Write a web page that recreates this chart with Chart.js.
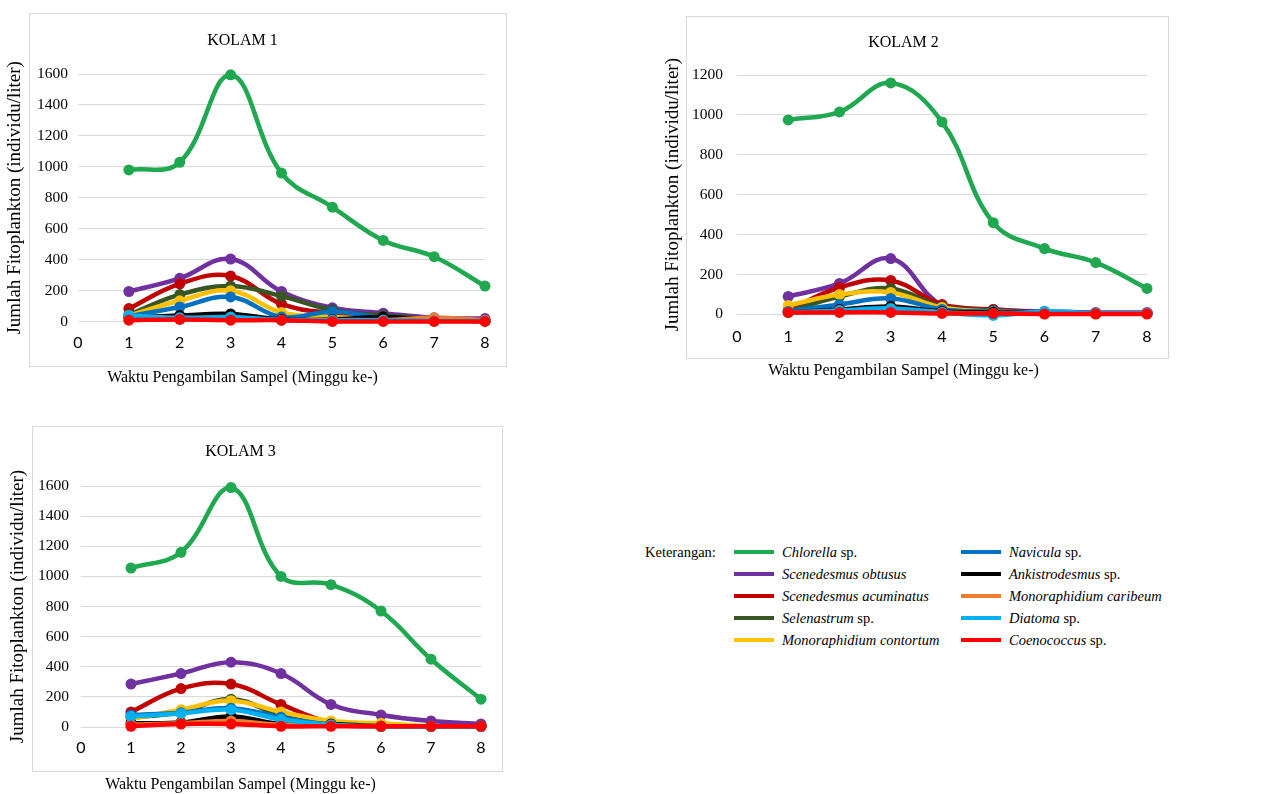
<!DOCTYPE html>
<html>
<head>
<meta charset="utf-8">
<script src="https://cdn.jsdelivr.net/npm/chart.js@4.4.0/dist/chart.umd.min.js"></script>
<style>
html,body{margin:0;padding:0;background:#fff;width:1276px;height:794px;overflow:hidden;position:relative;font-family:"Liberation Serif","Times New Roman",serif;color:#000;}
.box{position:absolute;border:1px solid #d9d9d9;box-sizing:border-box;}
canvas{position:absolute;}
.lg{position:absolute;font-size:14.5px;line-height:18px;white-space:nowrap;}
.sw{position:absolute;height:4px;width:40px;}
</style>
</head>
<body>
<div class="box" style="left:29px;top:13px;width:478px;height:354px;"></div>
<div class="box" style="left:686px;top:16px;width:483px;height:343px;"></div>
<div class="box" style="left:32px;top:426px;width:471px;height:346px;"></div>
<canvas id="c1" width="535" height="395" style="left:0px;top:0px;"></canvas>
<canvas id="c2" width="534" height="385" style="left:660px;top:0px;"></canvas>
<canvas id="c3" width="534" height="394" style="left:0px;top:400px;"></canvas>
<div id="legend"></div>
<script>
// ---- data ----
const weeks = [1, 2, 3, 4, 5, 6, 7, 8];
const xTickVals = [0, 1, 2, 3, 4, 5, 6, 7, 8];
const yTicks1600 = [0, 200, 400, 600, 800, 1000, 1200, 1400, 1600];
const yTicks1200 = [0, 200, 400, 600, 800, 1000, 1200];
const titles = ['KOLAM 1', 'KOLAM 2', 'KOLAM 3'];
const xTitle = 'Waktu Pengambilan Sampel (Minggu ke-)';
const yTitle = 'Jumlah Fitoplankton (individu/liter)';
const legendTitle = 'Keterangan:';
const genusNames = ['Chlorella', 'Scenedesmus obtusus', 'Scenedesmus acuminatus', 'Selenastrum', 'Monoraphidium contortum',
                    'Navicula', 'Ankistrodesmus', 'Monoraphidium caribeum', 'Diatoma', 'Coenococcus'];
const nameSuffix = [' sp.', '', '', ' sp.', '', ' sp.', ' sp.', '', ' sp.', ' sp.'];
const seriesColors = ['#1FA84F', '#7030A0', '#C00000', '#375623', '#FFC000',
                      '#0070C0', '#000000', '#ED7D31', '#00B0F0', '#FF0000'];

// Kolam 1
const k1Chlorella   = [980, 1030, 1595, 960, 740, 525, 420, 230];
const k1Obtusus     = [195, 280, 405, 195, 90, 55, 25, 20];
const k1Acuminatus  = [85, 245, 295, 115, 55, 35, 15, 10];
const k1Selenastrum = [45, 175, 230, 165, 75, 40, 20, 10];
const k1Contortum   = [40, 135, 200, 60, 30, 20, 10, 5];
const k1Navicula    = [35, 95, 160, 30, 65, 25, 10, 5];
const k1Ankistro    = [25, 40, 50, 15, 15, 30, 10, 5];
const k1Caribeum    = [15, 20, 25, 10, 10, 10, 25, 10];
const k1Diatoma     = [40, 25, 30, 10, 10, 10, 5, 5];
const k1Coenococcus = [10, 15, 10, 10, 2, 2, 2, 2];

// Kolam 2
const k2Chlorella   = [975, 1015, 1160, 965, 460, 330, 260, 130];
const k2Obtusus     = [90, 155, 280, 45, 25, 15, 10, 10];
const k2Acuminatus  = [20, 135, 170, 50, 25, 10, 5, 5];
const k2Selenastrum = [15, 90, 130, 40, 20, 10, 5, 5];
const k2Contortum   = [45, 100, 110, 35, 15, 10, 5, 5];
const k2Navicula    = [15, 50, 80, 25, 15, 10, 5, 5];
const k2Ankistro    = [10, 25, 40, 15, 10, 5, 5, 5];
const k2Caribeum    = [10, 15, 20, 10, 5, 5, 5, 5];
const k2Diatoma     = [10, 20, 30, 10, -5, 15, 5, 5];
const k2Coenococcus = [10, 10, 10, 5, 5, 2, 2, 2];

// Kolam 3
const k3Chlorella   = [1055, 1160, 1590, 1000, 945, 770, 450, 185];
const k3Obtusus     = [285, 355, 430, 355, 150, 80, 40, 20];
const k3Acuminatus  = [100, 255, 285, 150, 30, 10, 5, 5];
const k3Selenastrum = [60, 100, 185, 80, 30, 10, 5, 5];
const k3Contortum   = [55, 115, 175, 100, 40, 25, 5, 5];
const k3Navicula    = [80, 95, 125, 65, 15, 5, 5, 5];
const k3Ankistro    = [25, 30, 70, 20, 20, 5, 5, 5];
const k3Caribeum    = [15, 25, 40, 15, 10, 5, 5, 5];
const k3Diatoma     = [70, 90, 115, 50, 15, 5, 5, 5];
const k3Coenococcus = [5, 20, 20, 5, 5, 5, 5, 5];

const pond1 = [k1Chlorella, k1Obtusus, k1Acuminatus, k1Selenastrum, k1Contortum, k1Navicula, k1Ankistro, k1Caribeum, k1Diatoma, k1Coenococcus];
const pond2 = [k2Chlorella, k2Obtusus, k2Acuminatus, k2Selenastrum, k2Contortum, k2Navicula, k2Ankistro, k2Caribeum, k2Diatoma, k2Coenococcus];
const pond3 = [k3Chlorella, k3Obtusus, k3Acuminatus, k3Selenastrum, k3Contortum, k3Navicula, k3Ankistro, k3Caribeum, k3Diatoma, k3Coenococcus];

// ---- drawing ----
const SERIF = '"Liberation Serif", "Times New Roman", serif';
const SANS = 'Lato, "Liberation Sans", sans-serif';

function makeChart(id, series, title, yTicks, L) {
  const datasets = series.map((vals, i) => ({
    label: genusNames[i] + nameSuffix[i],
    data: weeks.map((w, j) => ({ x: w, y: vals[j] })),
    borderColor: seriesColors[i],
    backgroundColor: seriesColors[i],
    borderWidth: 4.5,
    pointRadius: 5.5,
    pointHoverRadius: 5.5,
    pointBorderWidth: 0,
    tension: 0.4,
    fill: false,
    clip: false,
    order: series.length - i
  }));
  return new Chart(document.getElementById(id), {
    type: 'line',
    data: { datasets },
    options: {
      responsive: false,
      animation: false,
      devicePixelRatio: 1,
      events: [],
      layout: { padding: { left: 0, top: 0, bottom: 0, right: L.padRight } },
      plugins: {
        legend: { display: false },
        tooltip: { enabled: false },
        title: {
          display: true, text: title, color: '#000',
          font: { family: SERIF, size: 16, weight: 'normal', lineHeight: 1.2 },
          padding: { top: L.tTop, bottom: L.tBottom }
        },
        subtitle: {
          display: true, position: 'bottom', text: xTitle, color: '#000',
          font: { family: SERIF, size: 16, weight: 'normal', lineHeight: 1.2 },
          padding: { top: 0, bottom: L.sBottom }
        }
      },
      scales: {
        x: {
          type: 'linear', min: 0, max: 8,
          afterBuildTicks: s => { s.ticks = xTickVals.map(v => ({ value: v })); },
          afterFit: s => { s.height = L.xHeight; },
          grid: { display: false, drawTicks: false },
          border: { display: false },
          ticks: { padding: L.xPad, color: '#000', maxRotation: 0, autoSkip: false,
                   font: { family: SANS, size: 16 }, callback: v => String(v) }
        },
        y: {
          type: 'linear', min: 0, max: yTicks[yTicks.length - 1],
          afterBuildTicks: s => { s.ticks = yTicks.map(v => ({ value: v })); },
          afterFit: s => { s.width = L.yWidth; },
          grid: { color: '#d9d9d9', lineWidth: 1, drawTicks: false },
          border: { display: false },
          ticks: { padding: L.yPad, color: '#000', font: { family: SERIF, size: 15.5 },
                   callback: v => String(v) },
          title: { display: true, text: yTitle, color: '#000',
                   font: { family: SERIF, size: 19, lineHeight: 1.2 },
                   padding: { top: L.yTitlePad, bottom: 0 } }
        }
      }
    }
  });
}

makeChart('c1', pond1, titles[0], yTicks1600,
  { padRight: 50, tTop: 31.4, tBottom: 23.4, sBottom: 7.4, xHeight: 46.7, xPad: 12, yWidth: 78, yPad: 10, yTitlePad: 3.6 });
makeChart('c2', pond2, titles[1], yTicks1200,
  { padRight: 47, tTop: 33.4, tBottom: 22.4, sBottom: 4.4, xHeight: 47, xPad: 12.5, yWidth: 77, yPad: 14, yTitlePad: 1.6 });
makeChart('c3', pond3, titles[2], yTicks1600,
  { padRight: 53, tTop: 42.4, tBottom: 24.4, sBottom: 0, xHeight: 47.8, xPad: 11.5, yWidth: 81, yPad: 12, yTitlePad: 6.6 });

// ---- legend (HTML, mixed italic) ----
const lg = document.getElementById('legend');
const rowY = [552, 574, 596, 618, 640];
const head = document.createElement('div');
head.className = 'lg';
head.style.left = '645px';
head.style.top = (rowY[0] - 9) + 'px';
head.textContent = legendTitle;
lg.appendChild(head);
genusNames.forEach((g, i) => {
  const col = i < 5 ? 0 : 1;
  const row = i % 5;
  const swX = col === 0 ? 734 : 961;
  const txX = col === 0 ? 782 : 1009;
  const sw = document.createElement('div');
  sw.className = 'sw';
  sw.style.left = swX + 'px';
  sw.style.top = (rowY[row] - 2) + 'px';
  sw.style.background = seriesColors[i];
  lg.appendChild(sw);
  const t = document.createElement('div');
  t.className = 'lg';
  t.style.left = txX + 'px';
  t.style.top = (rowY[row] - 9) + 'px';
  const it = document.createElement('i');
  it.textContent = g;
  t.appendChild(it);
  if (nameSuffix[i]) t.appendChild(document.createTextNode(nameSuffix[i]));
  lg.appendChild(t);
});
</script>
</body>
</html>
